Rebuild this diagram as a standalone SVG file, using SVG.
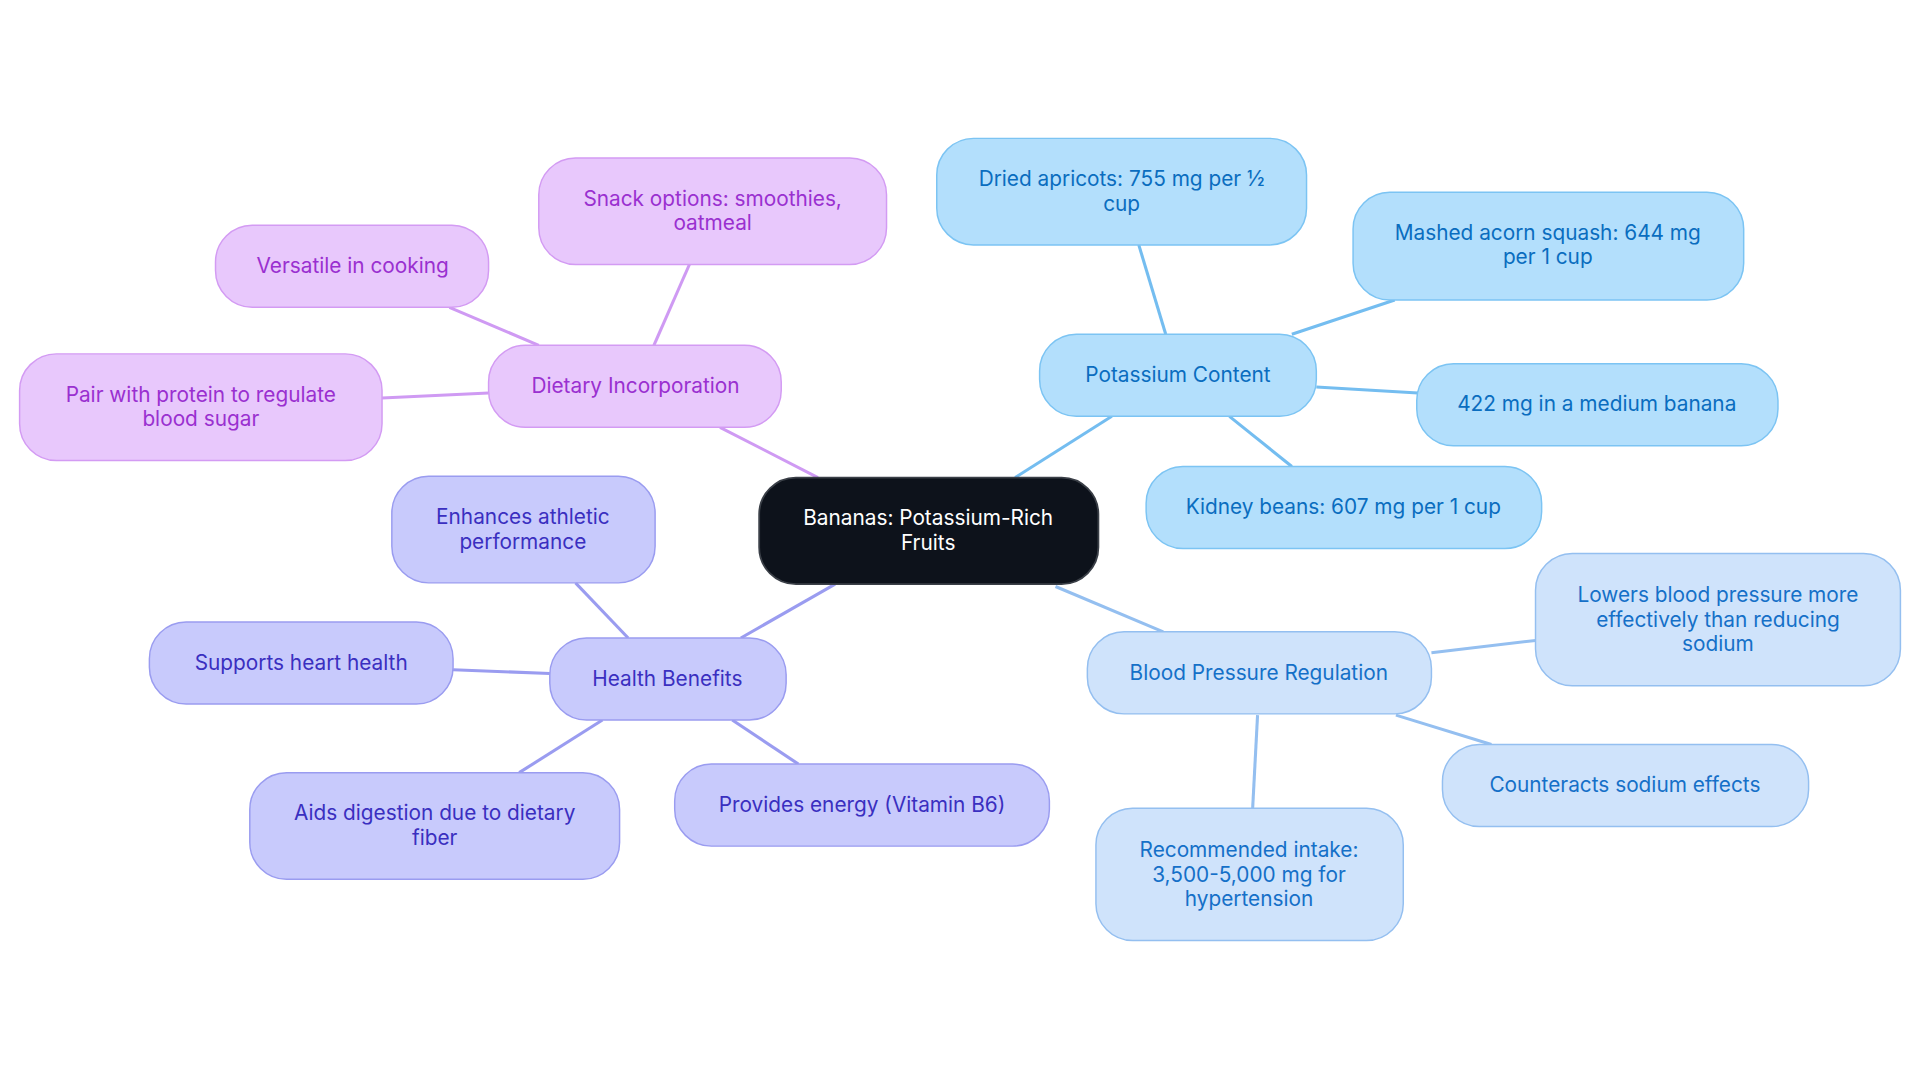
<svg xmlns="http://www.w3.org/2000/svg" width="1920" height="1083" viewBox="0 0 1920 1083">
<style>
text{font-family:Inter,"Noto Sans",sans-serif;font-size:17px;text-anchor:middle}
.c rect{fill:#0d121b;stroke:#3a3f47;stroke-width:1.5}.c text{fill:#fff}
.p rect{fill:#b3dffc;stroke:#7cc4f3;stroke-width:1.2}.p text{fill:#0a6dbf}
.b rect{fill:#cfe3fb;stroke:#94bff0;stroke-width:1.2}.b text{fill:#1570c8}
.h rect{fill:#c8cafc;stroke:#9a9cf0;stroke-width:1.2}.h text{fill:#3a2fc0}
.d rect{fill:#e8c8fc;stroke:#d39bf3;stroke-width:1.2}.d text{fill:#9a30d0}
#edges line{stroke-width:2.5}
</style>
<rect width="1920" height="1083" fill="#fff"/>
<g transform="scale(1.2245)">
<g id="edges">
<g stroke="#cf9af3"><line x1="668" y1="390" x2="588" y2="349"/><line x1="534" y1="282" x2="563" y2="216"/><line x1="440" y1="282" x2="367" y2="251"/><line x1="399" y1="321" x2="312" y2="325"/></g>
<g stroke="#74bdf0"><line x1="829" y1="390" x2="908" y2="340"/><line x1="952" y1="273" x2="930" y2="200"/><line x1="1055" y1="273" x2="1139" y2="245"/><line x1="1075" y1="316" x2="1158" y2="321"/><line x1="1004" y1="340" x2="1055" y2="381"/></g>
<g stroke="#94bff0"><line x1="862" y1="479" x2="950" y2="516"/><line x1="1169" y1="533" x2="1254" y2="523"/><line x1="1140" y1="584" x2="1218" y2="608"/><line x1="1027" y1="584" x2="1023" y2="660"/></g>
<g stroke="#9a9cf0"><line x1="682" y1="477" x2="605" y2="521"/><line x1="513" y1="521" x2="470" y2="476"/><line x1="370" y1="547" x2="449" y2="550"/><line x1="492" y1="588" x2="424" y2="631"/><line x1="598" y1="588" x2="652" y2="624"/></g>
</g>
<g id="center" class="c"><rect x="620" y="390" width="277" height="87" rx="30"/><text x="758" y="429">Bananas: Potassium-Rich</text><text x="758" y="449">Fruits</text></g>
<g id="potassium" class="p"><rect x="849" y="273" width="226" height="67" rx="30"/><text x="962" y="312">Potassium Content</text></g>
<g id="apricots" class="p"><rect x="765" y="113" width="302" height="87" rx="30"/><text x="916" y="152">Dried apricots: 755 mg per ½</text><text x="916" y="172">cup</text></g>
<g id="squash" class="p"><rect x="1105" y="157" width="319" height="88" rx="30"/><text x="1264" y="196">Mashed acorn squash: 644 mg</text><text x="1264" y="216">per 1 cup</text></g>
<g id="banana422" class="p"><rect x="1157" y="297" width="295" height="67" rx="30"/><text x="1304" y="336">422 mg in a medium banana</text></g>
<g id="kidney" class="p"><rect x="936" y="381" width="323" height="67" rx="30"/><text x="1097" y="420">Kidney beans: 607 mg per 1 cup</text></g>
<g id="bp" class="b"><rect x="888" y="516" width="281" height="67" rx="30"/><text x="1028" y="555">Blood Pressure Regulation</text></g>
<g id="lowers" class="b"><rect x="1254" y="452" width="298" height="108" rx="30"/><text x="1403" y="492">Lowers blood pressure more</text><text x="1403" y="512">effectively than reducing</text><text x="1403" y="532">sodium</text></g>
<g id="counter" class="b"><rect x="1178" y="608" width="299" height="67" rx="30"/><text x="1327" y="647">Counteracts sodium effects</text></g>
<g id="intake" class="b"><rect x="895" y="660" width="251" height="108" rx="30"/><text x="1020" y="700">Recommended intake:</text><text x="1020" y="720">3,500-5,000 mg for</text><text x="1020" y="740">hypertension</text></g>
<g id="health" class="h"><rect x="449" y="521" width="193" height="67" rx="30"/><text x="545" y="560">Health Benefits</text></g>
<g id="athletic" class="h"><rect x="320" y="389" width="215" height="87" rx="30"/><text x="427" y="428">Enhances athletic</text><text x="427" y="448">performance</text></g>
<g id="heart" class="h"><rect x="122" y="508" width="248" height="67" rx="30"/><text x="246" y="547">Supports heart health</text></g>
<g id="digestion" class="h"><rect x="204" y="631" width="302" height="87" rx="30"/><text x="355" y="670">Aids digestion due to dietary</text><text x="355" y="690">fiber</text></g>
<g id="energy" class="h"><rect x="551" y="624" width="306" height="67" rx="30"/><text x="704" y="663">Provides energy (Vitamin B6)</text></g>
<g id="dietary" class="d"><rect x="399" y="282" width="239" height="67" rx="30"/><text x="519" y="321">Dietary Incorporation</text></g>
<g id="snack" class="d"><rect x="440" y="129" width="284" height="87" rx="30"/><text x="582" y="168">Snack options: smoothies,</text><text x="582" y="188">oatmeal</text></g>
<g id="versatile" class="d"><rect x="176" y="184" width="223" height="67" rx="30"/><text x="288" y="223">Versatile in cooking</text></g>
<g id="pair" class="d"><rect x="16" y="289" width="296" height="87" rx="30"/><text x="164" y="328">Pair with protein to regulate</text><text x="164" y="348">blood sugar</text></g>
</g>
</svg>
